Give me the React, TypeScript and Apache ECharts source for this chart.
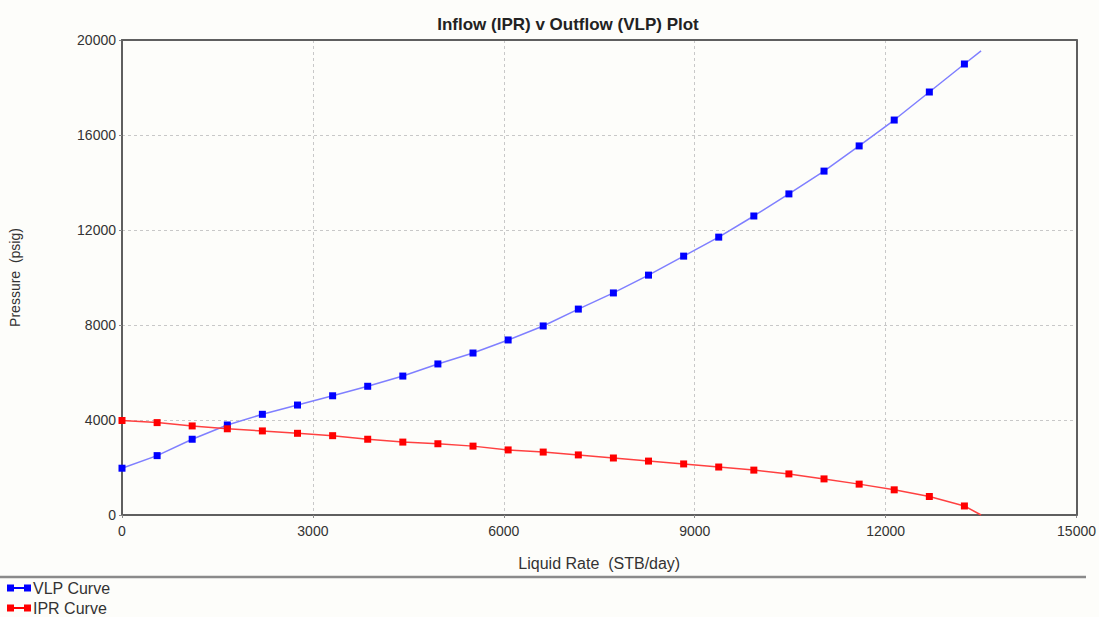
import React, { useEffect, useRef } from "react";
import * as echarts from "echarts";

const rates = [0, 552, 1103, 1655, 2206, 2758, 3310, 3861, 4413, 4964, 5516, 6068, 6619, 7171, 7722, 8274, 8826, 9377, 9929, 10480, 11032, 11584, 12135, 12687, 13238];
const vlpPressure = [1970, 2500, 3190, 3790, 4240, 4630, 5020, 5420, 5850, 6360, 6820, 7370, 7960, 8670, 9350, 10100, 10900, 11700, 12590, 13520, 14480, 15540, 16630, 17810, 18990];
const iprPressure = [3980, 3890, 3750, 3630, 3540, 3440, 3340, 3190, 3070, 3000, 2900, 2740, 2650, 2530, 2400, 2270, 2150, 2020, 1890, 1730, 1520, 1300, 1060, 780, 380];
const endRate = 13500;
const vlpEnd = 19540;
const iprEnd = 0;

const xTicks = { min: 0, max: 15000, interval: 3000 };
const yTicks = { min: 0, max: 20000, interval: 4000 };

export default function App() {
  const ref = useRef<HTMLDivElement>(null);
  useEffect(() => {
    document.body.style.margin = "0";
    const chart = echarts.init(ref.current!, null, { renderer: "svg" });
    const vlpData: any[] = rates.map((r, i) => [r, vlpPressure[i]]);
    vlpData.push({ value: [endRate, vlpEnd], symbol: "none" });
    const iprData: any[] = rates.map((r, i) => [r, iprPressure[i]]);
    iprData.push({ value: [endRate, iprEnd], symbol: "none" });
    const font = "'Liberation Sans', Arial, sans-serif";
    const icon = "path://M0,0h7v7h-7z M17,0h7v7h-7z M7,2.5h10v2h-10z";
    const legendBase = {
      orient: "horizontal",
      left: 7,
      padding: 0,
      itemWidth: 24,
      itemHeight: 7,
      itemGap: 4,
      icon,
      textStyle: { fontSize: 16, color: "#333", fontFamily: font, padding: [0, 0, 0, -3] },
    };
    const borderAxis = {
      show: true,
      z: 5,
      axisLine: { show: true, onZero: false, lineStyle: { color: "#5f5f5f", width: 2 } },
      axisTick: { show: false },
      axisLabel: { show: false },
      splitLine: { show: false },
    };
    chart.setOption({
      animation: false,
      backgroundColor: "#fdfdfa",
      textStyle: { fontFamily: font },
      title: {
        text: "Inflow (IPR) v Outflow (VLP) Plot",
        left: 563,
        textAlign: "center",
        top: 11,
        textStyle: { fontSize: 17, fontWeight: "bold", color: "#222", fontFamily: font },
      },
      grid: {
        left: 118,
        right: 21,
        top: 40,
        bottom: 102,
        show: false,
      },
      legend: [
        { ...legendBase, top: 580, data: ["VLP Curve"] },
        { ...legendBase, top: 600, data: ["IPR Curve"] },
      ],
      xAxis: [
        {
          type: "value",
          min: xTicks.min,
          max: xTicks.max,
          interval: xTicks.interval,
          name: "Liquid Rate  (STB/day)",
          nameLocation: "middle",
          nameGap: 40,
          nameTextStyle: { fontSize: 16, color: "#333", fontFamily: font },
          axisLine: { show: true, onZero: false, lineStyle: { color: "#5f5f5f", width: 2 } },
          axisTick: { show: true, length: 3, lineStyle: { color: "#888" } },
          axisLabel: { fontSize: 14, color: "#333", margin: 9, fontFamily: font, formatter: (v: number) => String(v) },
          splitLine: { show: true, lineStyle: { color: "#c8c8c8", type: [3, 3], width: 1 } },
        },
        {
          type: "value",
          position: "top",
          min: xTicks.min,
          max: xTicks.max,
          interval: xTicks.interval,
          ...borderAxis,
        },
      ],
      yAxis: [
        {
          type: "value",
          min: yTicks.min,
          max: yTicks.max,
          interval: yTicks.interval,
          name: "Pressure  (psig)",
          nameLocation: "middle",
          nameGap: 100,
          nameRotate: 90,
          nameTextStyle: { fontSize: 14, color: "#333", fontFamily: font },
          axisLine: { show: true, onZero: false, lineStyle: { color: "#5f5f5f", width: 2 } },
          axisTick: { show: true, length: 3, lineStyle: { color: "#888" } },
          axisLabel: { fontSize: 14, color: "#333", margin: 6, fontFamily: font, formatter: (v: number) => String(v) },
          splitLine: { show: true, lineStyle: { color: "#c8c8c8", type: [3, 3], width: 1 } },
        },
        {
          type: "value",
          position: "right",
          min: yTicks.min,
          max: yTicks.max,
          interval: yTicks.interval,
          ...borderAxis,
        },
      ],
      graphic: [
        {
          type: "line",
          shape: { x1: 0, y1: 577, x2: 1086, y2: 577 },
          style: { stroke: "#8a8a8a", lineWidth: 2.5 },
        },
      ],
      series: [
        {
          name: "VLP Curve",
          type: "line",
          data: vlpData,
          symbol: "rect",
          symbolSize: 7,
          color: "#0000ff",
          itemStyle: { color: "#0000ff" },
          lineStyle: { color: "#7f7fff", width: 1.5 },
        },
        {
          name: "IPR Curve",
          type: "line",
          data: iprData,
          symbol: "rect",
          symbolSize: 7,
          color: "#ff0000",
          itemStyle: { color: "#ff0000" },
          lineStyle: { color: "#ff4040", width: 1.5 },
        },
      ],
    });
    return () => chart.dispose();
  }, []);
  return <div ref={ref} style={{ width: 1099, height: 617 }} />;
}
